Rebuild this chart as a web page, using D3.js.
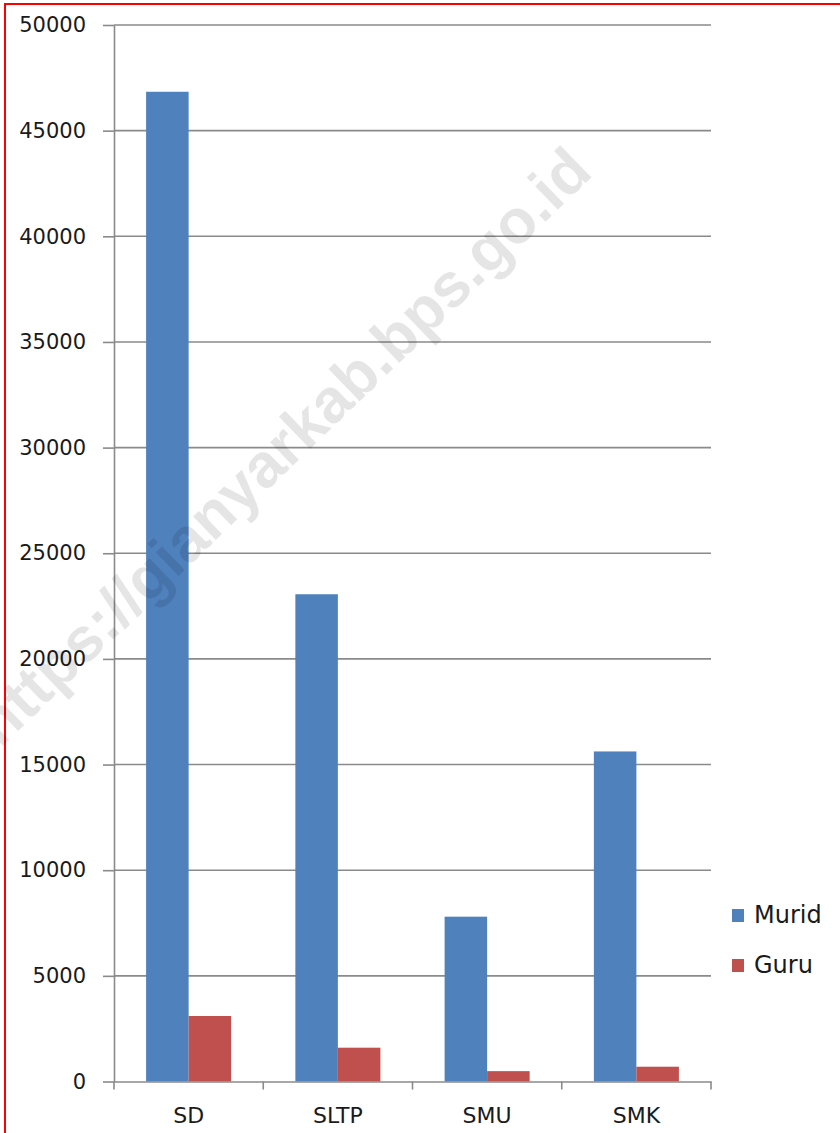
<!DOCTYPE html>
<html>
<head>
<meta charset="utf-8">
<script src="https://cdn.jsdelivr.net/npm/d3@7"></script>
<style>
    html, body { margin: 0; padding: 0; background: #fff; }
    svg { display: block; }
</style>
</head>
<body>
<div id="chart"></div>
<script>
const categories = ["SD", "SLTP", "SMU", "SMK"];
const seriesNames = ["Murid", "Guru"];
const murid = [46840, 23060, 7800, 15620];
const guru = [3100, 1600, 490, 700];
const yTicks = [0, 5000, 10000, 15000, 20000, 25000, 30000, 35000, 40000, 45000, 50000];
const watermark = "https://gianyarkab.bps.go.id";

const width = 840;
const height = 1133;
const colors = { Murid: "#4f81bd", Guru: "#c0504d" };
const gridColor = "#8a8a8a";
const font = "'DejaVu Sans', Verdana, sans-serif";

const svg = d3.select("#chart")
    .append("svg")
    .attr("width", width)
    .attr("height", height);

svg.append("rect").attr("width", width).attr("height", height).attr("fill", "#fff");

// red frame, left and top only
svg.append("path")
    .attr("d", `M5,${height} L5,4 L${width},4`)
    .attr("fill", "none")
    .attr("stroke", "#ff0000")
    .attr("stroke-width", 2);

// scales
const yScale = d3.scaleLinear().domain([0, 50000]).range([1081.5, 25]);
const xScale = d3.scaleBand().domain(categories).range([114, 711]).padding(0);
const xInner = d3.scaleBand().domain(seriesNames).range([0, xScale.bandwidth()])
    .paddingInner(0).paddingOuter(0.755);

// gridlines
svg.append("g")
    .selectAll("line")
    .data(yTicks.filter(d => d > 0))
    .enter()
    .append("line")
    .attr("x1", 114).attr("x2", 711)
    .attr("y1", d => yScale(d)).attr("y2", d => yScale(d))
    .attr("stroke", gridColor)
    .attr("stroke-width", 1.6);

// y axis
const yAxis = d3.axisLeft(yScale)
    .tickValues(yTicks)
    .tickFormat(d3.format("d"))
    .tickSize(11)
    .tickPadding(17)
    .tickSizeOuter(0);
const gy = svg.append("g")
    .attr("id", "y-axis")
    .attr("transform", "translate(114,0)")
    .call(yAxis);
gy.select(".domain").attr("stroke", gridColor).attr("stroke-width", 1.6);
gy.selectAll(".tick line").attr("stroke", gridColor).attr("stroke-width", 1.6);
gy.selectAll(".tick text")
    .attr("fill", "#1a1a1a")
    .style("font-family", font)
    .style("font-size", "21px");

// bars
const rows = categories.map((c, i) => ({ cat: c, Murid: murid[i], Guru: guru[i] }));
const groups = svg.append("g")
    .selectAll("g")
    .data(rows)
    .enter()
    .append("g")
    .attr("transform", d => `translate(${xScale(d.cat)},0)`);

groups.selectAll("rect")
    .data(d => seriesNames.map(s => ({ key: s, value: d[s] })))
    .enter()
    .append("rect")
    .attr("x", d => xInner(d.key))
    .attr("width", xInner.bandwidth())
    .attr("y", d => yScale(d.value))
    .attr("height", d => yScale(0) - yScale(d.value))
    .attr("fill", d => colors[d.key]);

// x axis
const xAxis = d3.axisBottom(xScale).tickSize(0).tickPadding(26).tickSizeOuter(0);
const gx = svg.append("g")
    .attr("id", "x-axis")
    .attr("transform", `translate(0,${yScale(0)})`)
    .call(xAxis);
gx.select(".domain").attr("stroke", gridColor).attr("stroke-width", 1.6);
gx.selectAll(".tick text")
    .attr("fill", "#1a1a1a")
    .style("font-family", font)
    .style("font-size", "22px");

// category boundary ticks
const bounds = categories.map(c => xScale(c)).concat([xScale.range()[1]]);
gx.selectAll(".bound")
    .data(bounds)
    .enter()
    .append("line")
    .attr("class", "bound")
    .attr("x1", d => d).attr("x2", d => d)
    .attr("y1", 0).attr("y2", 8)
    .attr("stroke", gridColor)
    .attr("stroke-width", 1.6);

// legend
const legend = svg.append("g")
    .selectAll("g")
    .data(seriesNames)
    .enter()
    .append("g")
    .attr("transform", (d, i) => `translate(732,${915 + i * 50})`);
legend.append("rect")
    .attr("x", 0).attr("y", -6)
    .attr("width", 12).attr("height", 13)
    .attr("fill", d => colors[d]);
legend.append("text")
    .attr("x", 22).attr("y", 8)
    .attr("fill", "#1a1a1a")
    .style("font-family", font)
    .style("font-size", "24px")
    .text(d => d);

// watermark
svg.append("text")
    .attr("transform", "translate(282,446) rotate(-44)")
    .attr("text-anchor", "middle")
    .attr("dy", "0.35em")
    .attr("fill", "#000")
    .attr("fill-opacity", 0.1)
    .style("font-family", "'Liberation Sans', Arial, sans-serif")
    .style("font-weight", "bold")
    .style("font-size", "62px")
    .text(watermark);
</script>
</body>
</html>
